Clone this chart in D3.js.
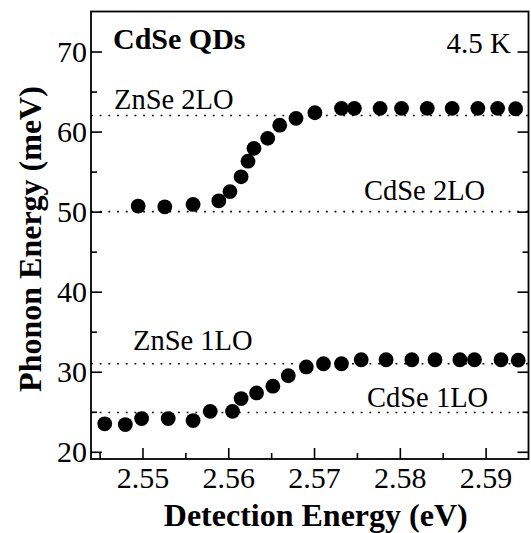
<!DOCTYPE html>
<html>
<head>
<meta charset="utf-8">
<script src="https://cdn.jsdelivr.net/npm/d3@7"></script>
<style>
  html, body { margin: 0; padding: 0; background: #fff; }
  svg { display: block; }
</style>
</head>
<body>
<svg id="chart" width="531" height="533"></svg>
<script>
// ---- data ----
const energy2LO = [2.5495, 2.5526, 2.5559, 2.5589, 2.5602, 2.5615, 2.5623, 2.5630, 2.5646, 2.5660, 2.5679,
                   2.5701, 2.5732, 2.5747, 2.5777, 2.5802, 2.5832, 2.5861, 2.5891, 2.5914, 2.5935];
const phonon2LO = [50.7, 50.6, 50.9, 51.35, 52.5, 54.35, 56.3, 57.9, 59.15, 60.8, 61.65,
                   62.35, 62.9, 62.9, 62.9, 62.9, 62.9, 62.9, 62.9, 62.9, 62.85];
const energy1LO = [2.5456, 2.5480, 2.5499, 2.5530, 2.5559, 2.5579, 2.5605, 2.5615, 2.5633, 2.5652, 2.5670,
                   2.5691, 2.5711, 2.5732, 2.5755, 2.5784, 2.5814, 2.5841, 2.5870, 2.5887, 2.5918, 2.5938];
const phonon1LO = [23.5, 23.4, 24.15, 24.15, 23.9, 25.05, 25.05, 26.65, 27.35, 28.2, 29.5,
                   30.6, 31.0, 31.0, 31.5, 31.5, 31.5, 31.5, 31.5, 31.5, 31.5, 31.45];
const refNames = ["ZnSe 2LO", "CdSe 2LO", "ZnSe 1LO", "CdSe 1LO"];
const refValues = [62.0, 50.0, 31.0, 24.9];
const xTicks = [2.55, 2.56, 2.57, 2.58, 2.59];
const xMinorTicks = [2.545, 2.555, 2.565, 2.575, 2.585];
const yTicks = [20, 30, 40, 50, 60, 70];
const yMinorTicks = [25, 35, 45, 55, 65];
const xDomain = [2.544, 2.595];
const yDomain = [19.1, 75];

// ---- layout ----
const FONT = "Liberation Serif";
const L = 91, R = 528.5, T = 11.5, B = 459;
const svg = d3.select("#chart").attr("font-family", FONT);
const x = d3.scaleLinear().domain(xDomain).range([L, R]);
const y = d3.scaleLinear().domain(yDomain).range([B, T]);

// reference dotted lines
svg.append("g").selectAll("line").data(refValues).join("line")
  .attr("x1", L).attr("x2", R)
  .attr("y1", d => y(d)).attr("y2", d => y(d))
  .attr("stroke", "#000").attr("stroke-width", 1.6)
  .attr("stroke-dasharray", "1.8,6.9");

// axes
const fmtX = d3.format(".2f");
const gx = svg.append("g").attr("transform", `translate(0,${B})`)
  .call(d3.axisBottom(x).tickValues(xTicks).tickSize(-11).tickFormat(fmtX));
const gxm = svg.append("g").attr("transform", `translate(0,${B})`)
  .call(d3.axisBottom(x).tickValues(xMinorTicks).tickSize(-6).tickFormat(""));
const gy = svg.append("g").attr("transform", `translate(${L},0)`)
  .call(d3.axisLeft(y).tickValues(yTicks).tickSize(-11).tickFormat(d3.format("d")));
const gym = svg.append("g").attr("transform", `translate(${L},0)`)
  .call(d3.axisLeft(y).tickValues(yMinorTicks).tickSize(-6).tickFormat(""));
const gr = svg.append("g").attr("transform", `translate(${R},0)`)
  .call(d3.axisRight(y).tickValues(yTicks).tickSize(-11).tickFormat(""));
const grm = svg.append("g").attr("transform", `translate(${R},0)`)
  .call(d3.axisRight(y).tickValues(yMinorTicks).tickSize(-6).tickFormat(""));

[gx, gxm, gy, gym, gr, grm].forEach(g => {
  g.attr("font-family", FONT).attr("font-size", 30);
  g.select(".domain").remove();
  g.selectAll(".tick line").attr("stroke", "#000").attr("stroke-width", 1.6);
});
gx.selectAll(".tick text")
  .attr("y", 29).attr("dy", 0).attr("font-family", FONT).attr("font-size", 30).attr("fill", "#000");
gy.selectAll(".tick text")
  .attr("x", -4).attr("dy", "0.34em").attr("font-family", FONT).attr("font-size", 30).attr("fill", "#000");

// frame
svg.append("rect").attr("x", L).attr("y", T).attr("width", R - L).attr("height", B - T)
  .attr("fill", "none").attr("stroke", "#000").attr("stroke-width", 1.8);

// points
const pts2 = energy2LO.map((e, i) => [e, phonon2LO[i]]);
const pts1 = energy1LO.map((e, i) => [e, phonon1LO[i]]);
svg.append("g").selectAll("circle").data(pts2.concat(pts1)).join("circle")
  .attr("cx", d => x(d[0])).attr("cy", d => y(d[1])).attr("r", 7.4).attr("fill", "#000");

// labels for reference lines
const refLabelPos = [
  { x: 114, y: 109 }, { x: 364, y: 200 }, { x: 133, y: 350 }, { x: 367, y: 407 }
];
svg.append("g").selectAll("text").data(refNames).join("text")
  .attr("x", (d, i) => refLabelPos[i].x).attr("y", (d, i) => refLabelPos[i].y)
  .attr("font-family", FONT).attr("font-size", 28.5).text(d => d);

// annotations
svg.append("text").attr("x", 113).attr("y", 49)
  .attr("font-family", FONT).attr("font-size", 30).attr("font-weight", "bold").text("CdSe QDs");
svg.append("text").attr("x", 511).attr("y", 53).attr("text-anchor", "end")
  .attr("font-family", FONT).attr("font-size", 29).text("4.5 K");

// axis titles
svg.append("text").attr("x", (L + R) / 2 + 6).attr("y", 525.5).attr("text-anchor", "middle")
  .attr("font-family", FONT).attr("font-size", 32).attr("font-weight", "bold").text("Detection Energy (eV)");
svg.append("text").attr("transform", `translate(41,${239}) rotate(-90)`).attr("text-anchor", "middle")
  .attr("font-family", FONT).attr("font-size", 32).attr("font-weight", "bold").text("Phonon Energy (meV)");
</script>
</body>
</html>
